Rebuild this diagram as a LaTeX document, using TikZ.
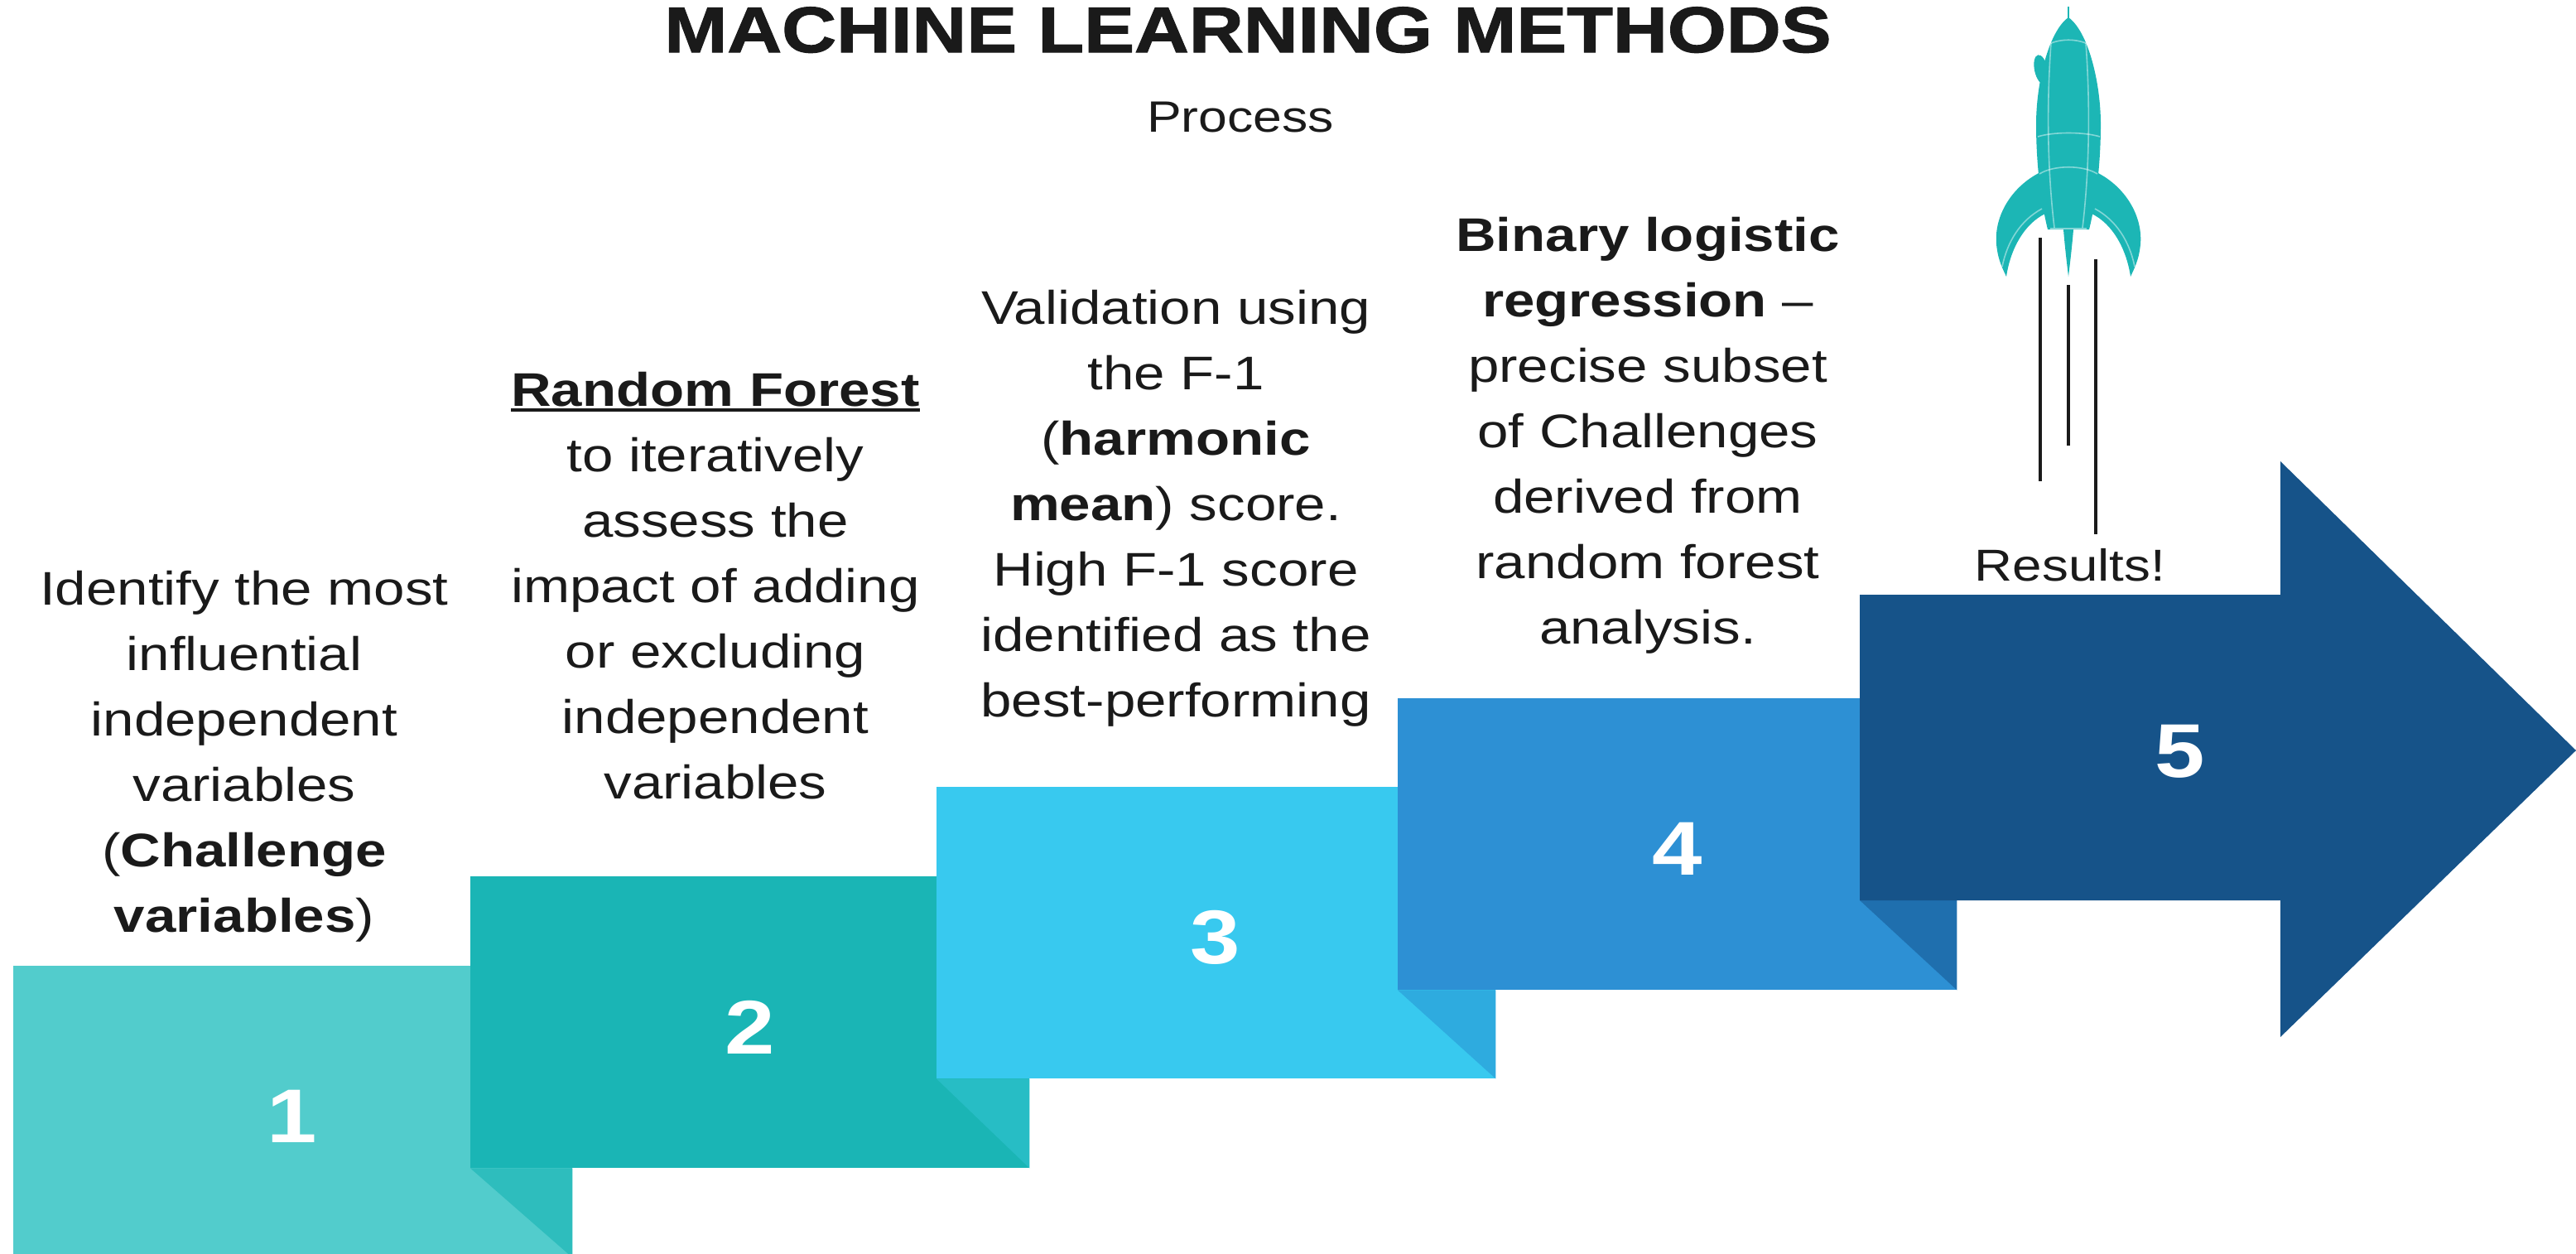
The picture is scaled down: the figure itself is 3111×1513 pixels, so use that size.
\documentclass[tikz,border=0pt]{standalone}
\usepackage{fontspec}
\setmainfont{Liberation Sans}[FakeStretch=1.18]
\newfontfamily\titlefont{Liberation Sans}[FakeStretch=1.17,FakeBold=1.5]
\usetikzlibrary{calc}

\definecolor{ink}{HTML}{1A1A1A}
\definecolor{stepA}{HTML}{52CCCC}
\definecolor{stepAfold}{HTML}{2EBDBD}
\definecolor{stepB}{HTML}{1AB5B5}
\definecolor{stepBfold}{HTML}{27BDC5}
\definecolor{stepC}{HTML}{38C9EF}
\definecolor{stepCfold}{HTML}{2EABDF}
\definecolor{stepD}{HTML}{2D90D4}
\definecolor{stepDfold}{HTML}{1F6FAE}
\definecolor{stepE}{HTML}{165389}
\definecolor{rocketteal}{HTML}{1CB6B5}

% underlined word with a thick rule just below the baseline
\newcommand\thickul[1]{{\setbox0\hbox{#1}\rlap{\rule[-7pt]{\wd0}{4.5pt}}\box0}}

\tikzset{
  stepbox/.style={anchor=north west, inner sep=0pt, draw=none,
    minimum width=675pt, minimum height=352pt},
  stepnum/.style={inner sep=0pt, text=white,
    font=\fontsize{92}{92}\selectfont\bfseries},
  desc/.style={anchor=base, inner sep=0pt, text=ink,
    font=\fontsize{57}{79}\selectfont},
  seam/.style={draw=white, draw opacity=0.45, line width=1.6pt},
  trail/.style={draw=ink, line width=3.6pt},
}

\begin{document}
\begin{tikzpicture}[x=1pt,y=-1pt]
\useasboundingbox (0,0) rectangle (3111,1513);
\clip (0,0) rectangle (3111,1513);

% ---- staircase of steps ----
\node[stepbox, fill=stepA] (b1) at (16,1166) {};
\node[stepbox, fill=stepB] (b2) at (568,1058) {};
\fill[stepAfold] (b2.south west) -- (b1.east |- b2.south) -- (b1.south east) -- cycle;
\node[stepbox, fill=stepC] (b3) at (1131,950) {};
\fill[stepBfold] (b3.south west) -- (b2.east |- b3.south) -- (b2.south east) -- cycle;
\node[stepbox, fill=stepD] (b4) at (1688,843) {};
\fill[stepCfold] (b4.south west) -- (b3.east |- b4.south) -- (b3.south east) -- cycle;

% final step: big arrow
\coordinate (b5nw) at (2246,718);
\coordinate (b5sw) at (2246,1087);
\coordinate (b5tip) at (3111,906);
\fill[stepDfold] (b5sw) -- (b4.east |- b5sw) -- (b4.south east) -- cycle;
\fill[stepE] (b5nw) -- (2754,718) -- (2754,557) -- (b5tip) -- (2754,1252)
  -- (2754,1087) -- (b5sw) -- cycle;

% ---- step numbers ----
\node[stepnum] (n1) at (353,1348) {1};
\node[stepnum] (n2) at (906,1240) {2};
\node[stepnum] (n3) at (1468,1132) {3};
\node[stepnum] (n4) at (2026,1025) {4};
\node[stepnum] (n5) at (2633,907) {5};

% ---- heading ----
\node[anchor=base, inner sep=0pt, text=ink,
  font=\titlefont\bfseries\fontsize{78}{90}\selectfont] (title) at (1507,63)
  {MACHINE LEARNING METHODS};
\node[anchor=base, inner sep=0pt, text=ink,
  font=\fontsize{53}{60}\selectfont] (subtitle) at (1498,159) {Process};

% ---- step descriptions ----
\node[desc] (d1) at (295,730) {\begin{tabular}[t]{@{}c@{}}
  Identify the most\\ influential\\ independent\\ variables\\
  (\textbf{Challenge}\\ \textbf{variables})\end{tabular}};
\node[desc] (d2) at (864,490) {\begin{tabular}[t]{@{}c@{}}
  \thickul{\textbf{Random Forest}}\\ to iteratively\\ assess the\\
  impact of adding\\ or excluding\\ independent\\ variables\end{tabular}};
\node[desc] (d3) at (1420,391) {\begin{tabular}[t]{@{}c@{}}
  Validation using\\ the F-1\\ (\textbf{harmonic}\\ \textbf{mean}) score.\\
  High F-1 score\\ identified as the\\ best-performing\end{tabular}};
\node[desc] (d4) at (1990,303) {\begin{tabular}[t]{@{}c@{}}
  \textbf{Binary logistic}\\ \textbf{regression} –\\ precise subset\\
  of Challenges\\ derived from\\ random forest\\ analysis.\end{tabular}};
\node[desc, font=\fontsize{54}{60}\selectfont] (res) at (2500,701) {Results!};

% ---- rocket ----
\begin{scope}
  % fins
  \fill[rocketteal] (2464,208) .. controls (2430,225) and (2408,260) .. (2411,295)
    .. controls (2413,315) and (2419,325) .. (2423,334)
    .. controls (2428,300) and (2445,270) .. (2470,258) -- cycle;
  \fill[rocketteal] (2532,208) .. controls (2566,225) and (2588,260) .. (2585,295)
    .. controls (2583,315) and (2577,325) .. (2573,334)
    .. controls (2568,300) and (2551,270) .. (2526,258) -- cycle;
  % body
  \fill[rocketteal] (2498,21) .. controls (2522,38) and (2537,100) .. (2537,150)
    .. controls (2537,200) and (2531,245) .. (2523,277) -- (2473,277)
    .. controls (2465,245) and (2459,200) .. (2459,150)
    .. controls (2459,100) and (2474,38) .. (2498,21) -- cycle;
  % porthole bulge
  \fill[rocketteal, rotate around={12:(2465,84)}] (2465,84) ellipse [x radius=8, y radius=18];
  % centre fin
  \fill[rocketteal] (2489,205) .. controls (2489,260) and (2494,300) .. (2498,334)
    .. controls (2502,300) and (2507,260) .. (2507,205) -- cycle;
  % antenna
  \draw[rocketteal, line width=2pt] (2498,8) -- (2498,24);
  % panel seams
  \draw[seam] (2477,52) .. controls (2490,47) and (2506,47) .. (2519,52);
  \draw[seam] (2461,165) .. controls (2480,159) and (2516,159) .. (2536,165);
  \draw[seam] (2463,210) .. controls (2480,199) and (2516,199) .. (2533,210);
  \draw[seam] (2477,52) .. controls (2472,120) and (2472,200) .. (2481,275);
  \draw[seam] (2519,52) .. controls (2524,120) and (2524,200) .. (2515,275);
  \draw[seam] (2418,322) .. controls (2424,292) and (2440,266) .. (2466,252);
  \draw[seam] (2578,322) .. controls (2572,292) and (2556,266) .. (2530,252);
  \draw[seam] (2476,276) -- (2520,276);
\end{scope}

% exhaust trails
\coordinate (trA) at (2464,287);
\coordinate (trB) at (2498,344);
\coordinate (trC) at (2531,313);
\draw[trail] (trA) -- (trA |- 0,581);
\draw[trail] (trB) -- (trB |- 0,538);
\draw[trail] (trC) -- (trC |- 0,645);
\end{tikzpicture}
\end{document}
